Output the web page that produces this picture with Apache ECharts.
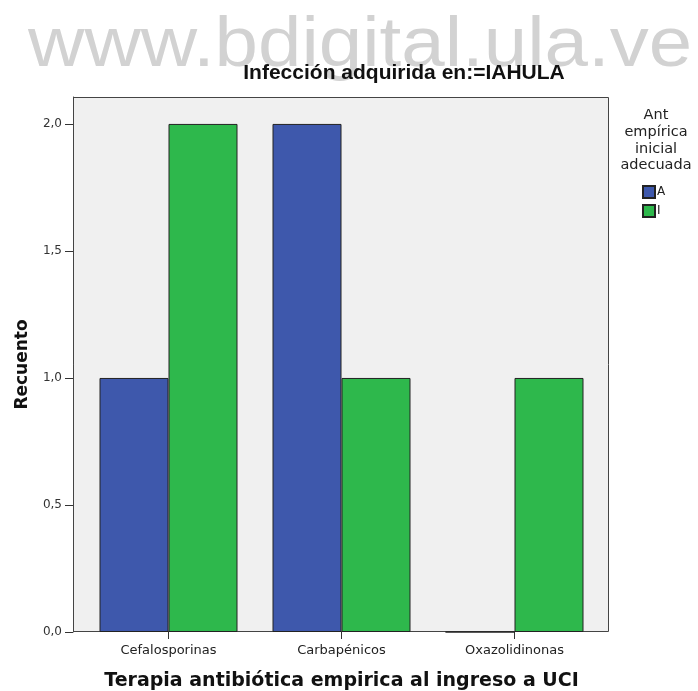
<!DOCTYPE html>
<html>
<head>
<meta charset="utf-8">
<script src="https://cdn.jsdelivr.net/npm/echarts@6/dist/echarts.min.js"></script>
<style>
  html, body { margin: 0; padding: 0; background: #fff; }
  #chart { width: 698px; height: 691px; }
</style>
</head>
<body>
<div id="chart"></div>
<script>
var categories = ["Cefalosporinas", "Carbapénicos", "Oxazolidinonas"];
var serieA = [1, 2, 0];
var serieI = [2, 1, 1];
var yTicks = [0, 0.5, 1, 1.5, 2];

var chart = echarts.init(document.getElementById("chart"));
var arial = "Liberation Sans, Arial, sans-serif";
var dejavu = "DejaVu Sans, sans-serif";

var option = {
  animation: false,
  backgroundColor: "#fff",
  textStyle: { fontFamily: dejavu },
  graphic: [
    // marca de agua
    {
      type: "text", z: 0, x: 28, y: 11, scaleX: 1.1,
      style: { text: "www.bdigital.ula.ve", fontSize: 71, fontFamily: arial, fill: "#d2d2d2" }
    },
    {
      type: "text", z: 5, x: 404, y: 63,
      style: { text: "Infección adquirida en:=IAHULA", align: "center", fontSize: 21, fontWeight: "bold", fontFamily: arial, fill: "#111" }
    },
    // marco del grafico
    {
      type: "rect", z: -1, silent: true,
      shape: { x: 73.5, y: 97.5, width: 535, height: 534 },
      style: { fill: "#f0f0f0", stroke: "#444", lineWidth: 1 }
    },
    {
      type: "text", z: 5, x: 656, y: 107,
      style: { text: "Ant\nempírica\ninicial\nadecuada", align: "center", fontSize: 14.5, lineHeight: 16.7, fontFamily: dejavu, fill: "#222" }
    }
  ],
  legend: {
    orient: "vertical",
    left: 642,
    top: 185,
    padding: 0,
    icon: "rect",
    itemWidth: 12,
    itemHeight: 12,
    itemGap: 5,
    textStyle: { fontSize: 12, color: "#222", padding: [0, 0, 0, -3] },
    data: ["A", "I"]
  },
  grid: { left: 82, top: 97, width: 519, height: 535, containLabel: false, outerBoundsMode: "none" },
  xAxis: {
    type: "category",
    data: categories,
    name: "Terapia antibiótica empirica al ingreso a UCI",
    nameLocation: "middle",
    nameGap: 40,
    nameTextStyle: { fontSize: 19, fontWeight: "bold", color: "#111" },
    axisLine: { show: false },
    axisTick: { show: true, alignWithLabel: true, length: 7, lineStyle: { color: "#333" } },
    axisLabel: { fontSize: 13, color: "#222", margin: 12 }
  },
  yAxis: {
    type: "value",
    min: 0,
    max: 2.106,
    interval: 0.5,
    offset: 9,
    name: "Recuento",
    nameLocation: "middle",
    nameGap: 42,
    nameTextStyle: { fontSize: 17, fontWeight: "bold", color: "#111" },
    axisLine: { show: true, lineStyle: { color: "#444" } },
    axisTick: { show: true, length: 8, lineStyle: { color: "#333" } },
    splitLine: { show: false },
    axisLabel: {
      fontSize: 12, color: "#333", margin: 11, showMaxLabel: false,
      formatter: function (v) {
        if (yTicks.indexOf(v) < 0) return "";
        return v.toFixed(1).replace(".", ",");
      }
    }
  },
  series: [
    {
      name: "A", type: "bar", data: serieA, barWidth: 69, barGap: "0%",
      itemStyle: { color: "#3e58ac", borderColor: "#222", borderWidth: 1 }
    },
    {
      name: "I", type: "bar", data: serieI, barWidth: 69, barGap: "0%",
      itemStyle: { color: "#2eb84c", borderColor: "#222", borderWidth: 1 }
    }
  ]
};

chart.setOption(option);
</script>
</body>
</html>
